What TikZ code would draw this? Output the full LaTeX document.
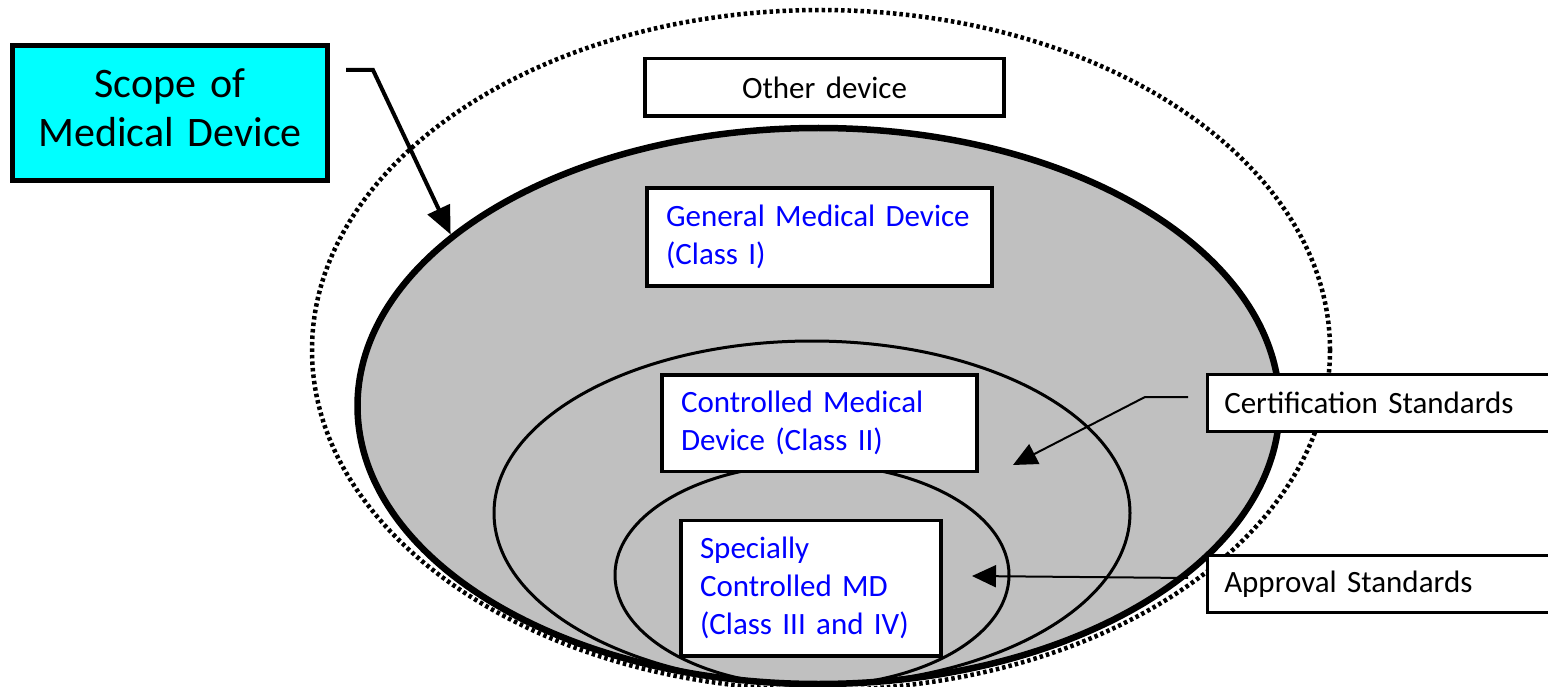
\documentclass[tikz,border=0pt]{standalone}
\usepackage{fontspec}
\setmainfont{Carlito}
\usetikzlibrary{shapes.geometric,arrows.meta}
\definecolor{mdgray}{RGB}{192,192,192}
\definecolor{mdblue}{RGB}{0,0,255}
\definecolor{mdcyan}{RGB}{0,255,255}
\tikzset{
  ring/.style     = {ellipse, draw, line width=3pt, inner sep=0pt},
  classbox/.style = {rectangle, draw, fill=white, line width=3.5pt,
                     align=left, text=mdblue, inner xsep=19pt,
                     font=\fontsize{31}{38}\selectfont},
  stdbox/.style   = {rectangle, draw, fill=white, line width=2.5pt,
                     anchor=west, align=left, inner xsep=17pt,
                     text width=386pt, minimum height=57pt,
                     font=\fontsize{31}{38}\selectfont},
  scopebox/.style = {rectangle, draw, fill=mdcyan, line width=5pt,
                     align=center, inner xsep=10pt, text depth=60pt,
                     font=\fontsize{42}{49}\selectfont},
  pointer/.style  = {line width=2pt, -{Triangle[length=24pt,width=22pt]}}
}

\begin{document}
\begin{tikzpicture}[x=1pt,y=-1pt]
  \useasboundingbox (0,0) rectangle (1548,687);

  % scopes of devices
  \node [ring, line width=4.5pt, dash pattern=on 3.5pt off 3pt,
         minimum width=1018pt, minimum height=680pt] (alldev) at (821,350) {};
  \node [ring, line width=6.5pt, fill=mdgray,
         minimum width=922pt, minimum height=556pt] (mdscope) at (818.5,406) {};
  \node [ring, minimum width=636pt, minimum height=344pt] (cert) at (812,513) {};
  \node [ring, minimum width=394pt, minimum height=222pt] (appr) at (812,575) {};

  % class boxes
  \node [classbox, text=black, align=center, text width=321pt,
         minimum height=57.5pt] (other) at (824.5,87.5) {Other device};
  \node [classbox, text width=307pt, minimum height=98pt] (class1) at (819.5,237)
        {General Medical Device\\(Class I)};
  \node [classbox, text width=277pt, minimum height=96.5pt] (class2) at (819.5,423)
        {Controlled Medical\\Device (Class II)};
  \node [classbox, text width=222pt, minimum height=135.5pt] (class3) at (811,588)
        {Specially\\Controlled MD\\(Class III and IV)};

  % labels
  \node [scopebox, text width=295pt, minimum height=135pt] (scope) at (170,113)
        {Scope of\\Medical Device};
  \node [stdbox] (certstd) at (1206,403) {Certification Standards};
  \node [stdbox] (apprstd) at (1206,584) {Approval Standards};

  % pointers
  \coordinate (scopetail) at (346,70);
  \coordinate (certtail) at (1188,397);
  \coordinate (certhead) at (1013,465);
  \coordinate (apprtail) at (1188,578);
  \coordinate (apprhead) at (972,576);
  \draw [pointer, line width=4pt, -{Triangle[length=28pt,width=24pt]}]
    (scopetail) -- ++(27,0) -- (mdscope.155);
  \draw [pointer] (certtail) -- ++(-43,0) -- (certhead);
  \draw [pointer] (apprtail) -- (apprhead);
\end{tikzpicture}
\end{document}
